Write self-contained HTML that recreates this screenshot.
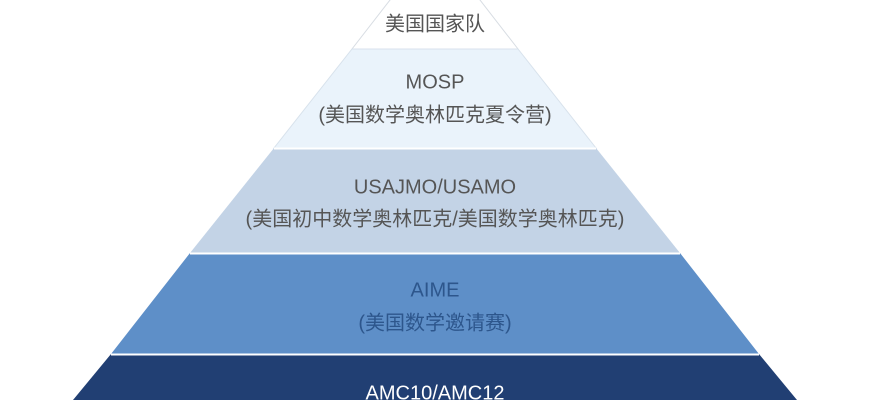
<!DOCTYPE html>
<html><head><meta charset="utf-8"><style>
html,body{margin:0;padding:0;background:#fff;}
svg{display:block;}
text{font-family:"Liberation Sans","Noto Sans CJK SC",sans-serif;font-size:20px;text-anchor:middle;dominant-baseline:middle;}
</style></head><body>
<svg width="870" height="400" viewBox="0 0 870 400">
<polygon points="435,-58 518,49 352,49" fill="#ffffff" stroke="#d8dde3" stroke-width="1"/>
<polygon points="352,49 518,49 596,148 274,148" fill="#eaf3fb" stroke="#d8e2ec" stroke-width="1"/>
<polygon points="274,148 596,148 680,253 190,253" fill="#c3d3e6"/>
<polygon points="190,253 680,253 759,354 111,354" fill="#5e8fc8"/>
<polygon points="111,354 759,354 797,400 73,400" fill="#213f73"/>
<line x1="274" y1="148.5" x2="596" y2="148.5" stroke="#fff" stroke-width="2"/>
<line x1="190" y1="253.5" x2="680" y2="253.5" stroke="#fff" stroke-width="2"/>
<line x1="111" y1="354.5" x2="759" y2="354.5" stroke="#fff" stroke-width="2"/>
<g fill="#555">
<text x="435" y="25">美国国家队</text>
<text x="435" y="83">MOSP</text>
<text x="435" y="116">(美国数学奥林匹克夏令营)</text>
<text x="435" y="188">USAJMO/USAMO</text>
<text x="435" y="220">(美国初中数学奥林匹克/美国数学奥林匹克)</text>
</g>
<g fill="#2d568c">
<text x="435" y="291">AIME</text>
<text x="435" y="324">(美国数学邀请赛)</text>
</g>
<text x="435" y="394" fill="#ffffff">AMC10/AMC12</text>
</svg>
</body></html>
